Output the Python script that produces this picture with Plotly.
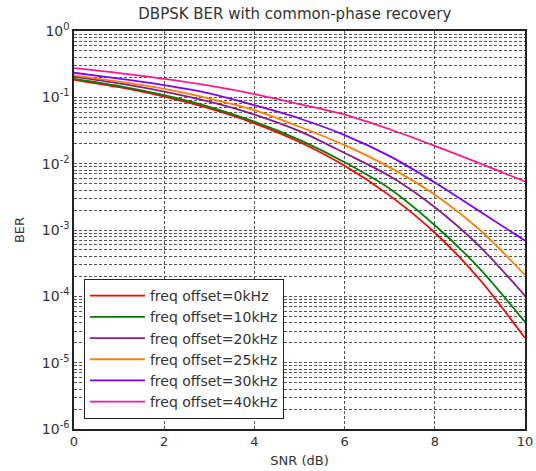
import plotly.graph_objects as go

# SNR sweep (dB) and measured bit error rates per frequency offset
snr_db = [0, 1, 2, 3, 4, 5, 6, 7, 8, 9, 10]

ber_0khz = [0.184, 0.142, 0.1025, 0.068, 0.0406, 0.0212, 0.0093, 0.0033, 0.00091, 0.000178, 0.0000235]
ber_10khz = [0.19, 0.148, 0.108, 0.072, 0.043, 0.0228, 0.0105, 0.0042, 0.00118, 0.00026, 0.000041]
ber_20khz = [0.205, 0.162, 0.122, 0.086, 0.055, 0.031, 0.0145, 0.0065, 0.0022, 0.00056, 0.000102]
ber_25khz = [0.215, 0.172, 0.134, 0.096, 0.064, 0.036, 0.019, 0.0088, 0.0034, 0.00100, 0.00021]
ber_30khz = [0.235, 0.192, 0.153, 0.115, 0.076, 0.048, 0.027, 0.0130, 0.0052, 0.0019, 0.00069]
ber_40khz = [0.275, 0.232, 0.19, 0.15, 0.112, 0.079, 0.055, 0.033, 0.0185, 0.0101, 0.0054]

series_names = [
    "freq offset=0kHz",
    "freq offset=10kHz",
    "freq offset=20kHz",
    "freq offset=25kHz",
    "freq offset=30kHz",
    "freq offset=40kHz",
]
series_values = [ber_0khz, ber_10khz, ber_20khz, ber_25khz, ber_30khz, ber_40khz]
series_colors = ["#ff0000", "#008000", "#8b1a8b", "#ff8000", "#8000ff", "#ff1a8c"]

y_tick_vals = [1, 1e-1, 1e-2, 1e-3, 1e-4, 1e-5, 1e-6]
y_tick_text = ["10<sup>0</sup>", "10<sup>-1</sup>", "10<sup>-2</sup>", "10<sup>-3</sup>",
               "10<sup>-4</sup>", "10<sup>-5</sup>", "10<sup>-6</sup>"]
x_tick_vals = [0, 2, 4, 6, 8, 10]

FONT = "DejaVu Sans, Arial, sans-serif"
TEXT = "#333333"
GRID = "#555555"

fig = go.Figure()
for name, vals, color in zip(series_names, series_values, series_colors):
    fig.add_trace(go.Scatter(
        x=snr_db, y=vals, name=name, mode="lines",
        line=dict(color=color, width=1.8, shape="spline", smoothing=0.8),
    ))

fig.update_layout(
    width=536, height=471,
    margin=dict(l=74, r=11, t=31, b=42),
    paper_bgcolor="white", plot_bgcolor="white",
    font=dict(family=FONT, size=13, color=TEXT),
    title=dict(text="DBPSK BER with common-phase recovery", x=0.55, xanchor="center",
               y=0.97, yanchor="middle", font=dict(family=FONT, size=15, color=TEXT)),
    showlegend=True,
    legend=dict(
        x=0.022, y=0.025, xanchor="left", yanchor="bottom",
        bgcolor="white", bordercolor="#222222", borderwidth=1,
        font=dict(family=FONT, size=14, color=TEXT),
        itemwidth=55,
    ),
)

fig.update_xaxes(
    range=[0, 10], tickvals=x_tick_vals, ticks="",
    showgrid=True, gridcolor=GRID, gridwidth=1, griddash="3px,2px",
    showline=True, linecolor="#222222", linewidth=1.5, mirror=True,
    zeroline=False, automargin=False,
    title=dict(text="SNR (dB)", standoff=8, font=dict(family=FONT, size=13, color=TEXT)),
    tickfont=dict(family=FONT, size=13, color=TEXT),
)

fig.update_yaxes(
    type="log", range=[-6, 0],
    tickvals=y_tick_vals, ticktext=y_tick_text, ticks="",
    showgrid=True, gridcolor=GRID, gridwidth=1, griddash="3px,2px",
    minor=dict(dtick="D1", showgrid=True, gridcolor=GRID, gridwidth=1, griddash="3px,2px"),
    showline=True, linecolor="#222222", linewidth=1.5, mirror=True,
    zeroline=False, automargin=False,
    title=dict(text="BER", standoff=14, font=dict(family=FONT, size=13, color=TEXT)),
    tickfont=dict(family=FONT, size=14, color=TEXT),
)

fig.write_html("out.html")
